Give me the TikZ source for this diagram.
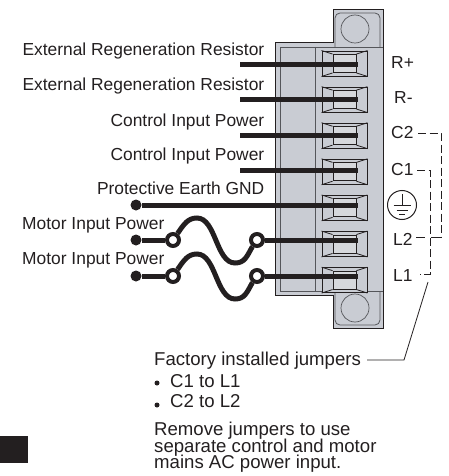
\documentclass[tikz,border=0pt]{standalone}
\usepackage{fontspec}
\setmainfont{Liberation Sans}
\usetikzlibrary{positioning,calc}

\begin{document}
\begin{tikzpicture}[x=1pt,y=-1pt]
      \definecolor{housing}{HTML}{C9CCD3}
      \definecolor{socket}{HTML}{D6D8DC}
      \definecolor{ink}{HTML}{231F20}
      \definecolor{edge}{HTML}{55565A}

      \newcommand{\termsep}[0]{10.2pt}
      \newcommand{\labelfont}[0]{\fontsize{17.4}{20}\selectfont}
      \newcommand{\notefont}[0]{\fontsize{18.6}{20}\selectfont}
      \newcommand{\termlines}[2]{%
        \draw [termline] (#1.north west) -- (#2.north west);
        \draw [termline] (#1.north east) -- (#2.north east);
        \draw [termline] (#1.south west) -- (#2.south west);
        \draw [termline] (#1.south east) -- (#2.south east);}

      \tikzstyle{terminal} = [rectangle, draw = ink, line width=0.9pt, fill = housing, minimum width=45pt, minimum height=25pt, inner sep=0pt]
      \tikzstyle{socketbox} = [rectangle, draw = ink, line width=0.9pt, fill = socket, minimum width=23pt, minimum height=18pt, inner sep=0pt]
      \tikzstyle{termline} = [line width=0.8pt, ink]
      \tikzstyle{wire}     = [line width=5pt, ink]
      \tikzstyle{dot}      = [circle, fill = ink, minimum size=11pt, inner sep=0pt]
      \tikzstyle{ring}     = [circle, draw = ink, line width=4pt, fill = white, minimum size=12pt, inner sep=0pt]
      \tikzstyle{jumper}   = [line width=1pt, ink, dash pattern=on 8pt off 3.5pt]
      \tikzstyle{leader}   = [line width=0.8pt, ink]
      \tikzstyle{inner}    = [line width=0.8pt, edge]
      \tikzstyle{caption}  = [text = ink, inner sep=0pt, font=\labelfont]
      \tikzstyle{pinname}  = [caption, anchor=base west]
      \tikzstyle{note}     = [text = ink, inner sep=0pt, font=\notefont, anchor=base west]
      \tikzstyle{bulletdot} = [circle, fill = ink, minimum size=5pt, inner sep=0pt]

      \useasboundingbox (0,0) rectangle (448,476);

      % connector housing
      \draw [fill = housing, draw = ink, line width=1pt] (275,43) -- (333,43) -- (333,10) -- (383,10) -- (383,328) -- (333,328) -- (333,295) -- (275,295) -- cycle;
      \draw [inner] (383,47) -- (280,47) -- (280,291) -- (383,291);
      \draw [inner] (315,47) -- (315,291);
      \draw [inner, rounded corners=5pt] (335,47) -- (335,13) -- (380,13) -- (380,47);
      \draw [inner, rounded corners=5pt] (335,291) -- (335,325) -- (380,325) -- (380,291);
      \node [circle, draw = edge, line width=0.7pt, minimum size=28pt, inner sep=0pt] (screwtop) at (355,29) {};
      \node [circle, draw = edge, line width=0.7pt, minimum size=28pt, inner sep=0pt] (screwbot) at (355,308) {};

      % terminals
      \node [terminal] (rplus) at (344.5,63.5) {};
      \node [terminal, below = \termsep of rplus]  (rminus) {};
      \node [terminal, below = \termsep of rminus] (ctwo)   {};
      \node [terminal, below = \termsep of ctwo]   (cone)   {};
      \node [terminal, below = \termsep of cone]   (earth)  {};
      \node [terminal, below = \termsep of earth]  (ltwo)   {};
      \node [terminal, below = \termsep of ltwo]   (lone)   {};

      \node [socketbox] at (rplus)  (rplusin)  {};
      \node [socketbox] at (rminus) (rminusin) {};
      \node [socketbox] at (ctwo)   (ctwoin)   {};
      \node [socketbox] at (cone)   (conein)   {};
      \node [socketbox] at (earth)  (earthin)  {};
      \node [socketbox] at (ltwo)   (ltwoin)   {};
      \node [socketbox] at (lone)   (lonein)   {};

      \termlines{rplus}{rplusin}
      \termlines{rminus}{rminusin}
      \termlines{ctwo}{ctwoin}
      \termlines{cone}{conein}
      \termlines{earth}{earthin}
      \termlines{ltwo}{ltwoin}
      \termlines{lone}{lonein}

      % left side labels
      \node [caption, anchor=base east] (regenone) at (264.5,56)  {External Regeneration Resistor};
      \node [caption, anchor=base east] (regentwo) at (264.5,91)  {External Regeneration Resistor};
      \node [caption, anchor=base east] (ctrlone)  at (264.5,126) {Control Input Power};
      \node [caption, anchor=base east] (ctrltwo)  at (264.5,160) {Control Input Power};
      \node [caption, anchor=base east] (gndtext)  at (264.5,194) {Protective Earth GND};
      \node [pinname] (motorone) at (22,229) {Motor Input Power};
      \node [pinname] (motortwo) at (22,264) {Motor Input Power};

      % wires
      \coordinate (wireone)   at (240,65);
      \coordinate (wiretwo)   at (240,100);
      \coordinate (wirethree) at (240,135);
      \coordinate (wirefour)  at (240,170);
      \coordinate (endone)    at (358,65);
      \coordinate (endtwo)    at (358,100);
      \coordinate (endthree)  at (358,135);
      \coordinate (endfour)   at (358,170);
      \coordinate (endfive)   at (358,205);
      \coordinate (endsix)    at (358,240);
      \coordinate (endseven)  at (358,276);

      \node [dot]  (dotfive) at (136,205) {};
      \node [dot]  (dotsix)  at (136,240) {};
      \node [dot]  (dotseven) at (136,276) {};
      \node [ring] (ringa) at (173,240) {};
      \node [ring] (ringb) at (257,240) {};
      \node [ring] (ringc) at (173,276) {};
      \node [ring] (ringd) at (257,276) {};

      \draw [wire] (wireone)   -- (endone);
      \draw [wire] (wiretwo)   -- (endtwo);
      \draw [wire] (wirethree) -- (endthree);
      \draw [wire] (wirefour)  -- (endfour);
      \draw [wire] (dotfive)   -- (endfive);
      \draw [wire] (dotsix)    -- (ringa);
      \draw [wire] (ringb)     -- (endsix);
      \draw [wire] (dotseven)  -- (ringc);
      \draw [wire] (ringd)     -- (endseven);
      \draw [wire] (ringa.55) .. controls (184,224) and (188,218) .. (197,218) .. controls (216,218) and (216,263) .. (235,263) .. controls (245,263) and (247,256) .. (ringb.235);
      \draw [wire] (ringc.55) .. controls (184,260) and (188,254) .. (197,254) .. controls (216,254) and (216,299) .. (235,299) .. controls (245,299) and (247,292) .. (ringd.235);

      % right side labels
      \node [pinname] (rplustext)  at (391,69)  {R+};
      \node [pinname] (rminustext) at (394,104) {R-};
      \node [pinname] (ctwotext)   at (391,139) {C2};
      \node [pinname] (conetext)   at (391,175) {C1};
      \node [pinname] (ltwotext)   at (393,245) {L2};
      \node [pinname] (lonetext)   at (393,281) {L1};

      % ground symbol
      \node [circle, draw = ink, line width=1pt, minimum size=29pt, inner sep=0pt] (gndring) at (402,205) {};
      \draw [leader, line width=1pt] (gndring.center) -- ++(0,-11);
      \draw [leader, line width=1pt] ($(gndring.center)+(-8.5,0)$) -- ++(17,0);
      \draw [leader, line width=1pt] ($(gndring.center)+(-5.5,5)$) -- ++(11,0);
      \draw [leader, line width=1pt] ($(gndring.center)+(-3,9)$) -- ++(6,0);

      % jumpers
      \coordinate (jumpa) at (418,133);
      \coordinate (jumpb) at (441,133);
      \coordinate (jumpc) at (441,237);
      \coordinate (jumpd) at (431,237);
      \coordinate (jumpe) at (417,170);
      \coordinate (jumpf) at (430,170);
      \coordinate (jumpg) at (430,274);
      \coordinate (jumph) at (420,274);
      \coordinate (stuba) at (416,237);
      \coordinate (stubb) at (425,237);
      \draw [jumper] (jumpa) -- (jumpb) -- (jumpc);
      \draw [leader, line width=1pt] (jumpc) -- (jumpd);
      \draw [leader, line width=1pt] (stuba) -- (stubb);
      \draw [jumper] (jumpe) -- (jumpf) -- (jumpg) -- (jumph);

      % notes
      \coordinate (leadera) at (428,282);
      \coordinate (leaderb) at (404,360);
      \coordinate (leaderc) at (367,360);
      \node [note] (factory) at (154,365) {Factory installed jumpers};
      \draw [leader] (leadera) -- (leaderb) -- (leaderc);
      \node [bulletdot] (bulletone) at (157,383) {};
      \node [bulletdot] (bullettwo) at (157,405) {};
      \node [note] (jumpone) at (170,387) {C1 to L1};
      \node [note] (jumptwo) at (170,407) {C2 to L2};
      \node [note] (removea) at (154,435) {Remove jumpers to use};
      \node [note] (removeb) at (154,452) {separate control and motor};
      \node [note] (removec) at (154,468) {mains AC power input.};

      % black patch
      \node [rectangle, fill = ink, minimum width=28pt, minimum height=27pt, inner sep=0pt] (patch) at (14,449.5) {};
    \end{tikzpicture}
\end{document}
